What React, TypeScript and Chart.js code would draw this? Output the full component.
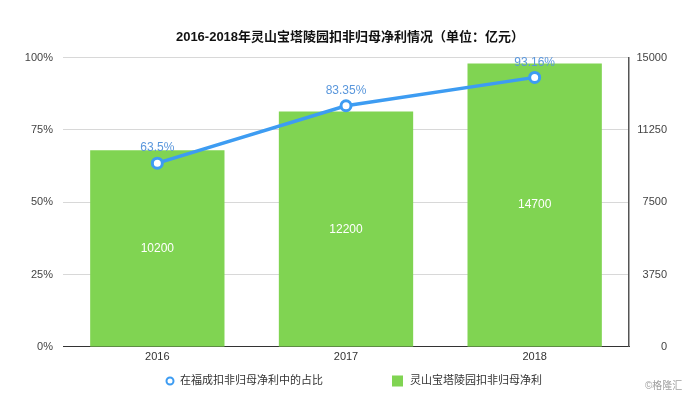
import React, { useEffect, useRef } from "react";
import { Chart, registerables } from "chart.js";

Chart.register(...registerables);

const categories = ["2016", "2017", "2018"];
const profitValues = [10200, 12200, 14700];
const shareValues = [63.5, 83.35, 93.16];
const shareLabels = ["63.5%", "83.35%", "93.16%"];
const leftTicks = [0, 25, 50, 75, 100];
const rightTicks = [0, 3750, 7500, 11250, 15000];

const FONT = '"Liberation Sans", Arial, "Noto Sans CJK SC", sans-serif';
const BLUE = "#3d9cf2";
const GREEN = "#80d452";

const labelPlugin = {
  id: "customLabels",
  afterLayout(chart: any) {
    const s = chart.scales.yRight;
    if (s) s.right = 667;
  },
  afterDatasetsDraw(chart: any) {
    const ctx = chart.ctx;
    ctx.save();
    const barMeta = chart.getDatasetMeta(1);
    ctx.font = `12px ${FONT}`;
    ctx.fillStyle = "#ffffff";
    ctx.textAlign = "center";
    ctx.textBaseline = "middle";
    barMeta.data.forEach((el: any, i: number) => {
      const y = (el.y + el.base) / 2;
      ctx.fillText(String(profitValues[i]), el.x, y);
    });
    const lineMeta = chart.getDatasetMeta(0);
    ctx.font = `12px ${FONT}`;
    ctx.fillStyle = "#5a97dc";
    lineMeta.data.forEach((el: any, i: number) => {
      ctx.fillText(shareLabels[i], el.x, el.y - 15);
    });
    ctx.restore();
  },
  afterDraw(chart: any) {
    const ctx = chart.ctx;
    ctx.save();
    const ly = 381;
    ctx.beginPath();
    ctx.arc(170, ly, 3.5, 0, Math.PI * 2);
    ctx.fillStyle = "#ffffff";
    ctx.fill();
    ctx.lineWidth = 2;
    ctx.strokeStyle = BLUE;
    ctx.stroke();
    ctx.font = `11px ${FONT}`;
    ctx.fillStyle = "#333333";
    ctx.textAlign = "left";
    ctx.textBaseline = "middle";
    ctx.fillText("在福成扣非归母净利中的占比", 180, ly);
    ctx.fillStyle = GREEN;
    ctx.fillRect(392, ly - 5.5, 11, 11);
    ctx.fillStyle = "#333333";
    ctx.fillText("灵山宝塔陵园扣非归母净利", 410, ly);
    ctx.font = `10px ${FONT}`;
    ctx.fillStyle = "#a0a0a0";
    ctx.fillText("©格隆汇", 645, 386);
    ctx.restore();
  },
};

export default function App() {
  const canvasRef = useRef<HTMLCanvasElement | null>(null);

  useEffect(() => {
    document.body.style.margin = "0";
    const canvas = canvasRef.current;
    if (!canvas) return;
    const chart = new Chart(canvas, {
      data: {
        labels: categories,
        datasets: [
          {
            type: "line",
            label: "在福成扣非归母净利中的占比",
            data: shareValues,
            yAxisID: "yLeft",
            borderColor: BLUE,
            borderWidth: 3.5,
            pointRadius: 5,
            pointBorderWidth: 3,
            pointBackgroundColor: "#ffffff",
            pointBorderColor: BLUE,
            tension: 0,
            order: 0,
          },
          {
            type: "bar",
            label: "灵山宝塔陵园扣非归母净利",
            data: profitValues,
            yAxisID: "yRight",
            backgroundColor: GREEN,
            borderWidth: 0,
            categoryPercentage: 1,
            barPercentage: 0.712,
            order: 1,
          },
        ],
      } as any,
      options: {
        animation: false,
        responsive: false,
        maintainAspectRatio: false,
        layout: { padding: { top: 0, bottom: 31, left: 0, right: 0 } },
        plugins: {
          legend: { display: false },
          tooltip: { enabled: false },
          title: {
            display: true,
            text: "2016-2018年灵山宝塔陵园扣非归母净利情况（单位：亿元）",
            color: "#111111",
            font: { family: FONT, size: 13, weight: "bold" },
            padding: { top: 30, bottom: 12 },
          },
        },
        scales: {
          x: {
            type: "category",
            grid: { display: false, drawTicks: false },
            border: { display: true, color: "#333333", width: 1 },
            ticks: {
              color: "#333333",
              font: { family: FONT, size: 11 },
              padding: 4,
              maxRotation: 0,
            },
          },
          yLeft: {
            type: "linear",
            position: "left",
            min: 0,
            max: 100,
            afterBuildTicks(scale: any) {
              scale.ticks = leftTicks.map((v) => ({ value: v }));
            },
            afterFit(scale: any) {
              scale.width = 63;
            },
            grid: {
              drawTicks: false,
              color: (c: any) => (c.tick && c.tick.value === 0 ? "#333333" : "#d8d8d8"),
              lineWidth: 1,
            },
            border: { display: false },
            ticks: {
              color: "#444444",
              font: { family: FONT, size: 11 },
              padding: 10,
              callback: (v: any) => `${v}%`,
            },
          },
          yRight: {
            type: "linear",
            position: "right",
            min: 0,
            max: 15000,
            afterBuildTicks(scale: any) {
              scale.ticks = rightTicks.map((v) => ({ value: v }));
            },
            afterFit(scale: any) {
              scale.width = 71;
            },
            grid: { display: false, drawTicks: false },
            border: { display: true, color: "#555555", width: 1.5 },
            ticks: {
              color: "#444444",
              font: { family: FONT, size: 11 },
              padding: 8,
              crossAlign: "far",
              callback: (v: any) => String(v),
            },
          },
        },
      } as any,
      plugins: [labelPlugin],
    });
    return () => chart.destroy();
  }, []);

  return (
    <div style={{ position: "relative", width: 700, height: 399, background: "#ffffff" }}>
      <canvas ref={canvasRef} width={700} height={399} style={{ width: 700, height: 399 }} />
    </div>
  );
}
